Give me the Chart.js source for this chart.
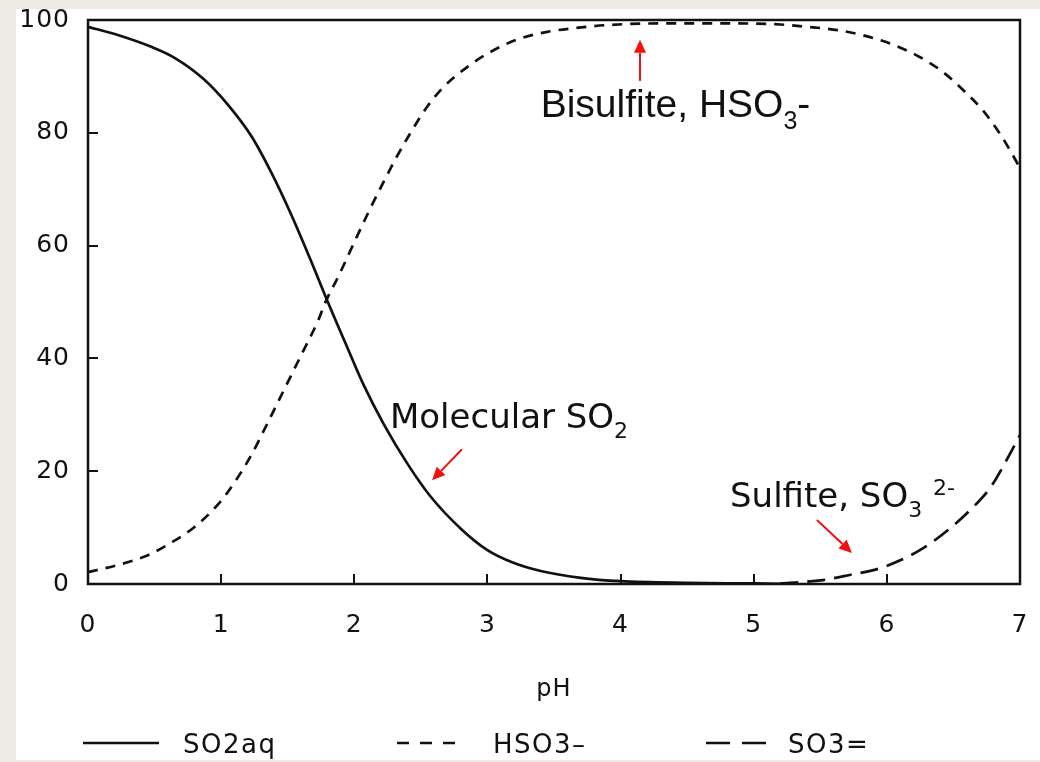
<!DOCTYPE html>
<html>
<head>
<meta charset="utf-8">
<script src="https://cdn.jsdelivr.net/npm/chart.js@4.4.1/dist/chart.umd.min.js"></script>
<style>
  html, body { margin: 0; padding: 0; background: #edeae4; }
  canvas { display: block; }
</style>
</head>
<body>
<canvas id="species_chart" width="1040" height="762"></canvas>
<script>
// % of total S(IV) as a function of pH
const so2_ph  = [0, 0.23, 0.48, 0.65, 0.86, 1.05, 1.23, 1.38, 1.53, 1.68, 1.78, 1.95, 2.07, 2.22, 2.40, 2.57, 2.80, 3.00, 3.19, 3.40, 3.70, 4.00, 4.50, 5.00, 5.30];
const so2_pct = [98.8, 97.3, 95.2, 93.3, 89.7, 85.0, 79.3, 72.8, 65.3, 57.0, 51.2, 41.8, 35.3, 28.4, 21.3, 15.6, 9.8, 6.0, 3.8, 2.3, 1.1, 0.5, 0.2, 0.1, 0];

const hso3_ph  = [0, 0.23, 0.45, 0.63, 0.80, 0.98, 1.10, 1.23, 1.35, 1.48, 1.61, 1.73, 1.78, 1.89, 2.00, 2.10, 2.22, 2.32, 2.42, 2.55, 2.67, 2.85, 3.02, 3.22, 3.45, 3.67, 3.90, 4.30, 4.80, 5.20, 5.40, 5.63, 5.82, 6.05, 6.25, 6.42, 6.59, 6.72, 6.85, 6.98, 7.00];
const hso3_pct = [2.1, 3.4, 5.1, 7.4, 10.1, 14.2, 18.0, 23.0, 28.6, 34.8, 41.0, 46.8, 49.8, 55.0, 60.6, 65.6, 71.3, 75.8, 79.9, 84.7, 88.1, 91.7, 94.3, 96.5, 97.9, 98.6, 99.1, 99.4, 99.4, 99.2, 98.8, 98.2, 97.3, 95.6, 93.4, 90.8, 87.2, 84.0, 79.8, 74.6, 73.7];

const so3_ph  = [5.20, 5.52, 5.72, 5.95, 6.10, 6.27, 6.45, 6.63, 6.78, 6.90, 7.00];
const so3_pct = [0.1, 0.7, 1.6, 2.8, 4.2, 6.3, 9.4, 13.2, 17.2, 22.0, 26.4];

const series_names = ["SO2aq", "HSO3\u2013", "SO3="];
const x_title = "pH";

// callouts: [pH, %] of the text start, and arrows [from pH, from %, to pH, to %]
const callouts = [
    { at: [3.40, 82.8], face: "'Liberation Sans', Arial, sans-serif", size: 39,
      parts: [["Bisulfite, HSO", 0], ["3", 1], ["-", 0]] },
    { at: [2.268, 27.7], face: "'DejaVu Sans', Verdana, sans-serif", size: 34,
      parts: [["Molecular SO", 0], ["2", 1]] },
    { at: [4.822, 13.6], face: "'DejaVu Sans', Verdana, sans-serif", size: 34,
      parts: [["Sulfite, SO", 0], ["3", 1], [" ", 0], ["2-", -1]] }
];
const arrows = [
    [4.146, 89.2, 4.146, 96.5],
    [2.809, 23.9, 2.584, 18.4],
    [5.475, 11.35, 5.738, 5.5]
];

const tick_font = { family: "'DejaVu Sans', sans-serif", size: 25 };

function to_points(xs, ys) {
    return xs.map( function (x, ind) { return { x: x, y: ys[ind] }; } );
}

// keep the plot box exactly where the scan has it
function no_scale_padding(scale) {
    scale.paddingLeft = 0;
    scale.paddingRight = 0;
    scale.paddingTop = 0;
    scale.paddingBottom = 0;
}

const page_bg = {
    id: "page_bg",
    beforeDraw(chart) {
        const ctx = chart.ctx;
        ctx.save();
        ctx.fillStyle = "#edeae4";
        ctx.fillRect(0, 0, chart.width, chart.height);
        ctx.fillStyle = "#ffffff";
        ctx.fillRect(16, 9, chart.width - 16, 751);
        ctx.restore();
        ctx.letterSpacing = "1px";
    }
};

const frame_box = {
    id: "frame_box",
    afterDatasetsDraw(chart) {
        const a = chart.chartArea;
        const ctx = chart.ctx;
        ctx.save();
        ctx.strokeStyle = "#111";
        ctx.lineWidth = 2.5;
        ctx.strokeRect(a.left, a.top, a.right - a.left, a.bottom - a.top);
        ctx.restore();
    }
};

function draw_parts(ctx, face, size, parts, x, y) {
    let cx = x;
    parts.forEach( function (p) {
        const small = p[1] !== 0;
        const fs = small ? Math.round(size * 0.64) : size;
        const dy = p[1] === 1 ? size * 0.3 : (p[1] === -1 ? -size * 0.36 : 0);
        ctx.font = fs + "px " + face;
        ctx.fillText(p[0], cx, y + dy);
        cx += ctx.measureText(p[0]).width;
    });
}

function draw_arrow(ctx, x0, y0, x1, y1) {
    const ang = Math.atan2(y1 - y0, x1 - x0);
    const head = 13, half = 6;
    const bx = x1 - head * Math.cos(ang), by = y1 - head * Math.sin(ang);
    ctx.beginPath();
    ctx.moveTo(x0, y0);
    ctx.lineTo(bx, by);
    ctx.stroke();
    ctx.beginPath();
    ctx.moveTo(x1, y1);
    ctx.lineTo(bx + half * Math.sin(ang), by - half * Math.cos(ang));
    ctx.lineTo(bx - half * Math.sin(ang), by + half * Math.cos(ang));
    ctx.closePath();
    ctx.fill();
}

const callout_layer = {
    id: "callout_layer",
    afterDraw(chart) {
        const ctx = chart.ctx;
        const xs = chart.scales.x, ys = chart.scales.y;
        ctx.save();
        ctx.letterSpacing = "0px";
        ctx.fillStyle = "#111";
        ctx.textBaseline = "alphabetic";
        ctx.textAlign = "left";
        callouts.forEach( function (c) {
            draw_parts(ctx, c.face, c.size, c.parts, xs.getPixelForValue(c.at[0]), ys.getPixelForValue(c.at[1]));
        });
        ctx.strokeStyle = "#f01010";
        ctx.fillStyle = "#f01010";
        ctx.lineWidth = 2;
        arrows.forEach( function (a) {
            draw_arrow(ctx, xs.getPixelForValue(a[0]), ys.getPixelForValue(a[1]),
                            xs.getPixelForValue(a[2]), ys.getPixelForValue(a[3]));
        });

        // legend row under the axis title
        const sets = chart.data.datasets;
        const rows = [[83, 159, 183], [397, 455, 493], [706, 766, 788]];
        ctx.letterSpacing = "1.5px";
        ctx.font = "26px 'DejaVu Sans', sans-serif";
        ctx.textBaseline = "middle";
        ctx.fillStyle = "#111";
        ctx.strokeStyle = "#111";
        ctx.lineWidth = 2.5;
        rows.forEach( function (r, ind) {
            ctx.setLineDash(ind === 0 ? [] : (ind === 1 ? [12, 11] : [24, 12]));
            ctx.beginPath();
            ctx.moveTo(r[0], 743);
            ctx.lineTo(r[1], 743);
            ctx.stroke();
            ctx.fillText(sets[ind].label, r[2], 746);
        });
        ctx.restore();
    }
};

function main() {
    const chart = new Chart(
        document.getElementById("species_chart"),
        {
            type: "scatter",
            data: {
                datasets: [
                    {
                        label: series_names[0],
                        data: to_points(so2_ph, so2_pct),
                        borderColor: "#111",
                        borderWidth: 2.7,
                    },
                    {
                        label: series_names[1],
                        data: to_points(hso3_ph, hso3_pct),
                        borderColor: "#111",
                        borderWidth: 2.7,
                        borderDash: [10, 8],
                    },
                    {
                        label: series_names[2],
                        data: to_points(so3_ph, so3_pct),
                        borderColor: "#111",
                        borderWidth: 2.7,
                        borderDash: [18, 9],
                    },
                ]
            },
            options: {
                responsive: false,
                animation: false,
                devicePixelRatio: 1,
                showLine: true,
                elements: {
                    point: { radius: 0, hoverRadius: 0 },
                    line: { cubicInterpolationMode: "monotone", fill: false }
                },
                layout: { padding: { left: 16, top: 20, right: 20, bottom: 0 } },
                plugins: {
                    legend: { display: false },
                    tooltip: { enabled: false }
                },
                scales: {
                    x: {
                        type: "linear",
                        min: 0,
                        max: 7,
                        ticks: { stepSize: 1, color: "#111", font: tick_font, padding: 36 },
                        grid: { drawOnChartArea: false, drawTicks: true, tickLength: -10, color: "#111", lineWidth: 2 },
                        border: { display: false },
                        title: {
                            display: true,
                            text: x_title,
                            color: "#111",
                            font: { family: "'DejaVu Sans', sans-serif", size: 24 },
                            padding: { top: 0, bottom: 58 }
                        },
                        afterFit: function (scale) { scale.height = 178; no_scale_padding(scale); }
                    },
                    y: {
                        min: 0,
                        max: 100,
                        ticks: { stepSize: 20, color: "#111", font: tick_font, padding: 28 },
                        grid: { drawOnChartArea: false, drawTicks: true, tickLength: -10, color: "#111", lineWidth: 2 },
                        border: { display: false },
                        afterFit: function (scale) { scale.width = 72; no_scale_padding(scale); }
                    }
                }
            },
            plugins: [page_bg, frame_box, callout_layer]
        }
    );
}

main();
</script>
</body>
</html>
